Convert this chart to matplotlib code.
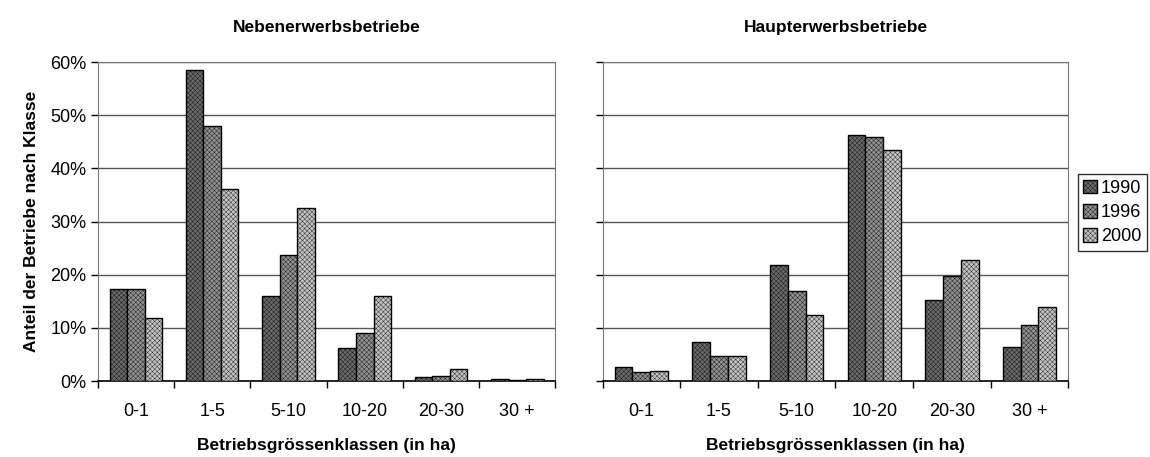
import numpy as np
from matplotlib import pyplot as plt

classes = ["0-1", "1-5", "5-10", "10-20", "20-30", "30 +"]
years = ["1990", "1996", "2000"]

# Anteil in % je Klasse
neben_1990 = [17.3, 58.5, 16.0, 6.3, 0.8, 0.4]
neben_1996 = [17.3, 48.0, 23.7, 9.0, 1.0, 0.2]
neben_2000 = [11.8, 36.2, 32.6, 16.0, 2.3, 0.4]

haupt_1990 = [2.6, 7.3, 21.9, 46.3, 15.2, 6.4]
haupt_1996 = [1.7, 4.7, 17.0, 46.0, 19.8, 10.6]
haupt_2000 = [2.0, 4.7, 12.4, 43.5, 22.8, 14.0]

colors = ["#6a6a6a", "#909090", "#c2c2c2"]
hatches = ["xxxxxxx", "xxxxxxx", "xxxxxxx"]

plt.rcParams['font.family'] = ['Liberation Sans', 'DejaVu Sans']
plt.rcParams['hatch.linewidth'] = 0.25
plt.rcParams['hatch.color'] = '#bdbdbd'

fig = plt.figure(figsize=(11.5, 4.57), dpi=100)
ax1 = fig.add_axes([0.085, 0.166, 0.398, 0.698])
ax2 = fig.add_axes([0.524, 0.166, 0.405, 0.698])


def draw(ax, series, title, ylabels):
    x = np.arange(len(classes))
    w = 0.23
    bars = []
    for i, vals in enumerate(series):
        b = ax.bar(x + (i - 1) * w, vals, w, color=colors[i], edgecolor="black",
                   linewidth=1.0, hatch=hatches[i], zorder=3, label=years[i])
        bars.append(b)
    ax.set_xlim(-0.5, len(classes) - 0.5)
    ax.set_ylim(0, 60)
    ax.set_yticks(np.arange(0, 61, 10))
    if ylabels:
        ax.set_yticklabels(["{}%".format(v) for v in range(0, 61, 10)], fontsize=13)
    else:
        ax.set_yticklabels([])
    ax.yaxis.grid(True, color="#555555", linewidth=1.0, zorder=0)
    ax.set_xticks(x)
    ax.set_xticklabels(classes, fontsize=13)
    ax.set_xticks(np.arange(-0.5, len(classes)), minor=True)
    ax.tick_params(axis="x", which="major", length=0, pad=16)
    ax.tick_params(axis="x", which="minor", length=5, width=1)
    ax.tick_params(axis="y", length=5, width=1, pad=3)
    for s in ["top", "right", "left"]:
        ax.spines[s].set_linestyle((0, (1, 1)))
        ax.spines[s].set_color("#777777")
    ax.spines["bottom"].set_linewidth(1.2)
    ax.set_title(title, fontsize=12.5, fontweight="bold", pad=22)
    ax.set_xlabel("Betriebsgrössenklassen (in ha)", fontsize=12.5, fontweight="bold", labelpad=13)
    return bars


draw(ax1, [neben_1990, neben_1996, neben_2000], "Nebenerwerbsbetriebe", True)
ax1.set_ylabel("Anteil der Betriebe nach Klasse", fontsize=12.5, fontweight="bold", labelpad=8)
bars = draw(ax2, [haupt_1990, haupt_1996, haupt_2000], "Haupterwerbsbetriebe", False)

leg = fig.legend(handles=bars, labels=years, loc="center left", bbox_to_anchor=(0.937, 0.535),
                 frameon=True, fancybox=False, edgecolor="black", fontsize=13,
                 handlelength=0.8, handleheight=0.8, handletextpad=0.2,
                 borderpad=0.3, labelspacing=0.4, borderaxespad=0)
leg.get_frame().set_linewidth(1.0)

fig.savefig("out.png", dpi=100)
